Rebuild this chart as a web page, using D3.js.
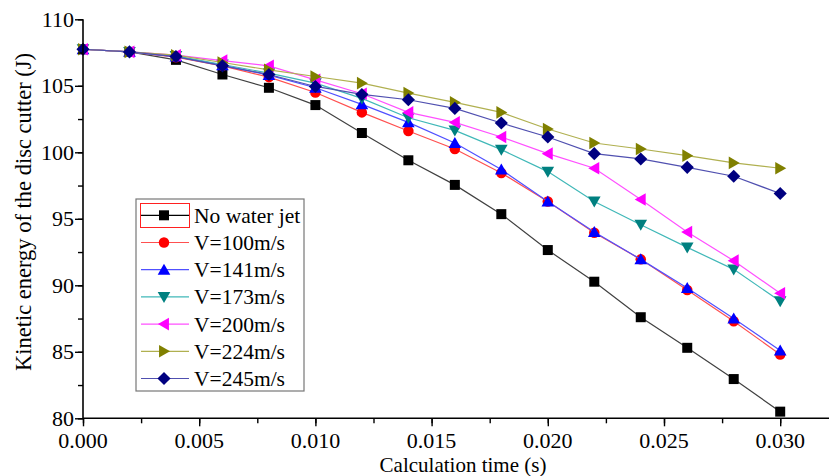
<!DOCTYPE html>
<html>
<head>
<meta charset="utf-8">
<script src="https://cdn.jsdelivr.net/npm/d3@7"></script>
</head>
<body style="margin:0">
<svg id="chart" width="829" height="476"></svg>
<script>
// ---- data ----
const times = [0, 0.002, 0.004, 0.006, 0.008, 0.010, 0.012, 0.014, 0.016, 0.018, 0.020, 0.022, 0.024, 0.026, 0.028, 0.030];
const seriesNames = ["No water jet", "V=100m/s", "V=141m/s", "V=173m/s", "V=200m/s", "V=224m/s", "V=245m/s"];
const noWaterJet = [107.75, 107.55, 106.95, 105.85, 104.85, 103.55, 101.45, 99.4, 97.55, 95.35, 92.65, 90.27, 87.6, 85.3, 82.95, 80.5];
const v100 = [107.75, 107.55, 107.15, 106.5, 105.65, 104.5, 103.0, 101.6, 100.25, 98.45, 96.3, 93.95, 91.95, 89.65, 87.3, 84.8];
const v141 = [107.75, 107.55, 107.2, 106.55, 105.8, 104.85, 103.6, 102.25, 100.7, 98.7, 96.3, 94.0, 91.95, 89.8, 87.5, 85.1];
const v173 = [107.75, 107.55, 107.25, 106.6, 105.95, 105.2, 104.05, 102.6, 101.65, 100.2, 98.55, 96.3, 94.55, 92.85, 91.2, 88.8];
const v200 = [107.75, 107.55, 107.3, 106.9, 106.5, 105.45, 104.4, 103.0, 102.25, 101.15, 99.9, 98.8, 96.45, 94.0, 91.85, 89.4];
const v224 = [107.75, 107.55, 107.3, 106.75, 106.2, 105.7, 105.2, 104.45, 103.75, 103.0, 101.75, 100.7, 100.25, 99.75, 99.2, 98.8];
const v245 = [107.75, 107.55, 107.2, 106.5, 105.85, 104.95, 104.35, 103.95, 103.3, 102.2, 101.15, 99.9, 99.5, 98.87, 98.2, 96.9];
const xTicks = [0, 0.005, 0.010, 0.015, 0.020, 0.025, 0.030];
const yTicks = [80, 85, 90, 95, 100, 105, 110];
const markerColors = ["#000000", "#ff0000", "#0000ff", "#008080", "#ff00ff", "#808000", "#000080"];
const lineColors = ["#404040", "#ff5050", "#5050ff", "#40b8b8", "#ff50ff", "#b0b050", "#5050b0"];
const markerTypes = ["square", "circle", "triangleUp", "triangleDown", "triangleLeft", "triangleRight", "diamond"];

const allValues = [noWaterJet, v100, v141, v173, v200, v224, v245];

// ---- layout ----
const svg = d3.select("#chart");
const x = d3.scaleLinear().domain([0, 0.0321]).range([83, 829]);
const y = d3.scaleLinear().domain([80, 110]).range([418.3, 19.3]);

function markerPath(type, s) {
  const h = s / 2;
  switch (type) {
    case "square": return `M${-h},${-h}H${h}V${h}H${-h}Z`;
    case "circle": return d3.symbol(d3.symbolCircle, Math.PI * h * h)();
    case "triangleUp": return `M0,${-h * 1.1}L${h * 1.15},${h * 0.9}L${-h * 1.15},${h * 0.9}Z`;
    case "triangleDown": return `M0,${h * 1.1}L${h * 1.15},${-h * 0.9}L${-h * 1.15},${-h * 0.9}Z`;
    case "triangleLeft": return `M${-h * 1.1},0L${h * 0.9},${-h * 1.15}L${h * 0.9},${h * 1.15}Z`;
    case "triangleRight": return `M${h * 1.1},0L${-h * 0.9},${-h * 1.15}L${-h * 0.9},${h * 1.15}Z`;
    case "diamond": return `M0,${-h * 1.25}L${h * 1.25},0L0,${h * 1.25}L${-h * 1.25},0Z`;
  }
}
const markerSize = [10, 10.5, 11, 11, 11, 11, 10.5];

function addText(parent, size) {
  return parent.append("text").attr("font-size", size).style("font-family", "'Liberation Serif'").attr("fill", "#000");
}

// ---- series ----
const line = d3.line().x((d) => x(d[0])).y((d) => y(d[1]));
allValues.forEach((vals, i) => {
  const pts = times.map((t, j) => [t, vals[j]]);
  const g = svg.append("g");
  g.append("path").attr("d", line(pts)).attr("fill", "none")
    .attr("stroke", lineColors[i]).attr("stroke-width", 1.2);
  g.selectAll("path.m").data(pts).join("path").attr("class", "m")
    .attr("transform", (d) => `translate(${x(d[0])},${y(d[1])})`)
    .attr("d", markerPath(markerTypes[i], markerSize[i]))
    .attr("fill", markerColors[i]);
});

// ---- axes (ticks from d3 axes, labels as text at scale positions) ----
const xAxisG = svg.append("g").attr("transform", "translate(0,418.3)");
xAxisG.call(d3.axisBottom(x).tickValues(d3.range(0, 0.0321, 0.0025)).tickSize(5).tickFormat(""));
xAxisG.selectAll(".tick line").attr("stroke-width", 1.4);
xAxisG.select(".domain").attr("stroke-width", 1.6).attr("d", `M${x(0)},0H829`);
const xMajor = svg.append("g").attr("transform", "translate(0,418.3)")
  .call(d3.axisBottom(x).tickValues(xTicks).tickSize(8).tickFormat(""));
xMajor.select(".domain").remove();
xMajor.selectAll(".tick line").attr("stroke-width", 1.4);
xTicks.forEach((t) => {
  addText(svg, 22).attr("x", x(t)).attr("y", 448).attr("text-anchor", "middle").text(d3.format(".3f")(t));
});

const yAxisG = svg.append("g").attr("transform", "translate(83,0)");
yAxisG.call(d3.axisLeft(y).tickValues(d3.range(80, 110.1, 2.5)).tickSize(5).tickFormat(""));
yAxisG.selectAll(".tick line").attr("stroke-width", 1.4);
yAxisG.select(".domain").attr("stroke-width", 1.6).attr("d", `M0,${y(110)}V${y(80)}`);
const yMajor = svg.append("g").attr("transform", "translate(83,0)")
  .call(d3.axisLeft(y).tickValues(yTicks).tickSize(8).tickFormat(""));
yMajor.select(".domain").remove();
yMajor.selectAll(".tick line").attr("stroke-width", 1.4);
yTicks.forEach((v) => {
  addText(svg, 22).attr("x", 74).attr("y", y(v) + 7.5).attr("text-anchor", "end").text(v);
});

// axis titles
addText(svg, 21).attr("x", 463).attr("y", 472).attr("text-anchor", "middle").text("Calculation time (s)");
addText(svg, 22.5).attr("transform", "translate(31,212) rotate(-90)")
  .attr("text-anchor", "middle").text("Kinetic energy of the disc cutter (J)");

// ---- legend ----
const legend = svg.append("g");
legend.append("rect").attr("x", 136).attr("y", 199).attr("width", 168).attr("height", 192)
  .attr("fill", "#fff").attr("stroke", "#777").attr("stroke-width", 1.2);
legend.append("rect").attr("x", 140.5).attr("y", 203.5).attr("width", 49).attr("height", 24)
  .attr("fill", "none").attr("stroke", "#ff2020").attr("stroke-width", 1);
seriesNames.forEach((name, i) => {
  const cy = 215.3 + i * 27.2;
  legend.append("line").attr("x1", 141).attr("x2", 189).attr("y1", cy).attr("y2", cy)
    .attr("stroke", i === 0 ? "#000" : lineColors[i]).attr("stroke-width", 1.2);
  legend.append("path").attr("transform", `translate(164,${cy})`)
    .attr("d", markerPath(markerTypes[i], markerSize[i])).attr("fill", markerColors[i]);
  addText(legend, 21.5).attr("x", 194).attr("y", cy + 7.5).text(name);
});
</script>
</body>
</html>
